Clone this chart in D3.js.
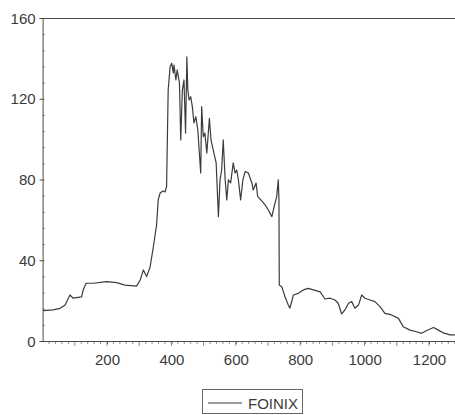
<!DOCTYPE html>
<html>
<head>
<meta charset="utf-8">
<script src="https://cdn.jsdelivr.net/npm/d3@7"></script>
<style>
  body { margin: 0; background: #fff; }
  svg { display: block; font-family: "Liberation Sans", Arial, sans-serif; }
</style>
</head>
<body>
<div id="chart"></div>
<script>
const obs = [1, 33, 54, 70, 80, 85, 95, 121, 126, 135, 157, 199, 230, 256, 292, 303, 313, 323, 334, 344,
  354, 359, 365, 374, 380, 385, 390, 396, 401, 406, 408, 414, 418, 425, 429, 434, 439, 444, 448, 451,
  455, 460, 465, 470, 476, 482, 491, 494, 499, 504, 510, 518, 523, 530, 539, 546, 551, 556, 561, 567,
  572, 577, 584, 592, 598, 603, 608, 615, 622, 629, 639, 650, 654, 663, 668, 678, 691, 701, 712, 719,
  727, 732, 734, 735, 743, 753, 763, 768, 779, 794, 810, 825, 841, 862, 877, 893, 908, 918, 929, 939,
  950, 960, 970, 981, 991, 1001, 1017, 1032, 1048, 1063, 1084, 1105, 1120, 1141, 1162, 1177, 1193, 1214, 1229, 1245,
  1265, 1281];
const foinix = [15, 15.4, 16.2, 17.8, 21.2, 22.8, 21.2, 21.9, 25.3, 28.6, 28.6, 29.4, 28.9, 27.7, 27.2, 30.2, 35.2, 31.9, 36.8, 46.7,
  57.5, 69.9, 73.3, 74.3, 73.8, 76.4, 124.3, 135.9, 137.6, 132.8, 136.7, 129.3, 134.3, 127.8, 99.6, 124.3, 129.3, 103, 140.8, 124.3,
  119.4, 121, 116.1, 108, 111.1, 104.5, 83.2, 116.1, 101.2, 103, 93.1, 110.3, 99.6, 94.6, 88.2, 61.6, 79.8, 84.7, 99.6, 79.8,
  69.9, 79.8, 78.3, 88.2, 83.2, 84.7, 79.8, 69.9, 79.8, 83.9, 83.2, 78.3, 74.8, 78.3, 71.5, 69.9, 67.4, 64.9, 61.6, 66.5,
  71.5, 79.8, 69.9, 27.7, 26.8, 21.8, 17.8, 16.3, 22.8, 23.6, 25.3, 26.1, 25.3, 24.3, 20.8, 21.2, 20.3, 18.7, 13.4, 15.4,
  18.7, 19.5, 16.2, 17.8, 22.8, 21.2, 20.3, 19.5, 17, 13.7, 12.9, 11.2, 7.1, 5.4, 4.6, 3.8, 5.2, 6.7, 5.4, 4,
  3, 3];
const yTicks = [0, 40, 80, 120, 160];
const xTicks = [200, 400, 600, 800, 1000, 1200];
const seriesName = "FOINIX";

const W = 455, H = 415;
const mLeft = 42.6, mTop = 18, mBottom = 341;

const svg = d3.select("#chart").append("svg")
  .attr("width", W).attr("height", H);

const x = d3.scaleLinear().domain([0, 1300]).range([mLeft, mLeft + 1300 * 0.322]);
const y = d3.scaleLinear().domain([0, 160]).range([mBottom, mTop]);

const ink = "#4a4a4a";
const txt = "#3a3a3a";

// frame: top border
svg.append("line")
  .attr("x1", mLeft).attr("x2", W).attr("y1", mTop + 0.5).attr("y2", mTop + 0.5)
  .attr("stroke", ink).attr("stroke-width", 1);

// y axis
const yAxis = d3.axisLeft(y).tickValues(yTicks).tickSize(3).tickPadding(4);
const gy = svg.append("g").attr("transform", `translate(${mLeft},0)`).call(yAxis);
gy.select(".domain").attr("stroke", ink);
gy.selectAll(".tick line").attr("stroke", ink);
gy.selectAll("text").attr("fill", txt).style("font-size", "15px").attr("dy", "0.34em");

// y minor ticks
svg.append("g").selectAll("line")
  .data(d3.range(0, 161, 8))
  .enter().append("line")
  .attr("x1", mLeft).attr("x2", mLeft + 2)
  .attr("y1", d => y(d) + 0.5).attr("y2", d => y(d) + 0.5)
  .attr("stroke", ink).attr("stroke-width", 0.8);

// x axis
const xAxis = d3.axisBottom(x).tickValues(xTicks).tickSize(3).tickPadding(10)
  .tickFormat(d3.format("d"));
const gx = svg.append("g").attr("transform", `translate(0,${mBottom})`).call(xAxis);
gx.select(".domain").attr("stroke", ink).attr("d", `M${mLeft},0.5H${W}`);
gx.selectAll(".tick line").attr("stroke", ink);
gx.selectAll("text").attr("fill", txt).style("font-size", "15px");

// x minor ticks
svg.append("g").selectAll("line")
  .data(d3.range(20, 1300, 20))
  .enter().append("line")
  .attr("x1", d => x(d)).attr("x2", d => x(d))
  .attr("y1", mBottom + 1).attr("y2", d => mBottom + (d % 100 === 0 ? 5 : 3))
  .attr("stroke", "#777").attr("stroke-width", 0.8);

// series line
const line = d3.line().x((d, i) => x(obs[i])).y(d => y(d));
svg.append("path")
  .datum(foinix)
  .attr("d", line)
  .attr("fill", "none")
  .attr("stroke", "#3c3c3c")
  .attr("stroke-width", 1.2)
  .attr("stroke-linejoin", "round");

// legend
const lg = svg.append("g").attr("transform", "translate(202,389)");
lg.append("rect").attr("x", 0.5).attr("y", 0.5).attr("width", 100).attr("height", 24)
  .attr("fill", "none").attr("stroke", "#666");
lg.append("line").attr("x1", 6).attr("x2", 40).attr("y1", 14).attr("y2", 14)
  .attr("stroke", "#3c3c3c").attr("stroke-width", 1.2);
lg.append("text").attr("x", 46).attr("y", 19.5)
  .attr("fill", txt).style("font-size", "15px").text(seriesName);
</script>
</body>
</html>
